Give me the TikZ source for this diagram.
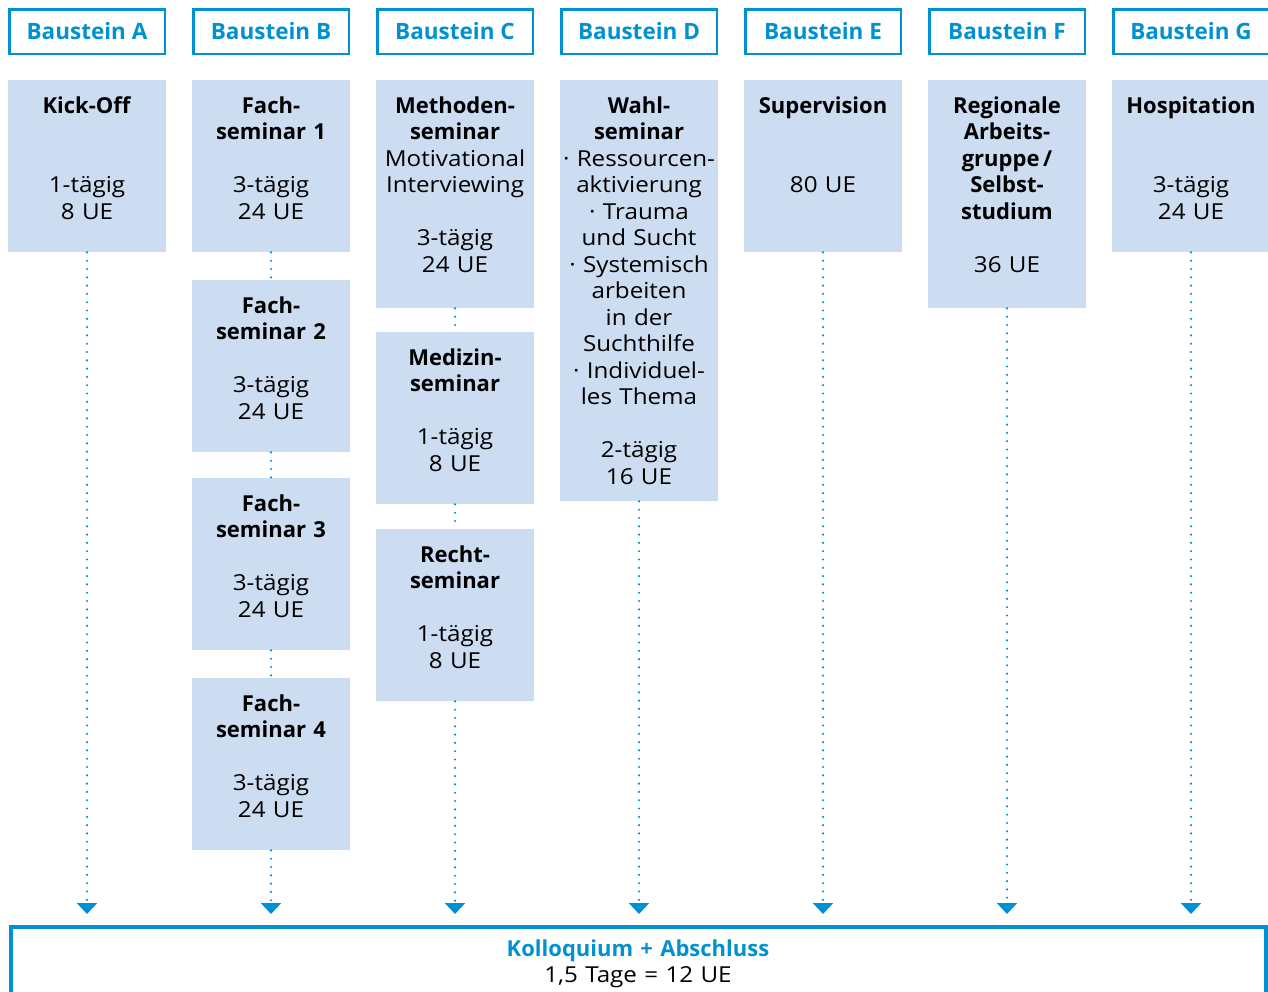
\documentclass[tikz,border=0pt]{standalone}
\usepackage{fontspec}
\setmainfont{Open Sans}[UprightFeatures={FakeStretch=1.1}]
\usetikzlibrary{arrows.meta}
\definecolor{bsblue}{RGB}{0,145,210}
\definecolor{bsfill}{RGB}{204,220,241}

\begin{document}
\begin{tikzpicture}[x=1pt,y=-1pt,
    every node/.style={font=\fontsize{22}{26.5}\selectfont},
    header/.style={draw=bsblue,line width=2.5pt,minimum width=155.5pt,minimum height=44.5pt,
      inner sep=0pt,text=bsblue,font=\fontsize{22.5}{26.5}\selectfont\bfseries},
    seminar/.style={fill=bsfill,anchor=north,inner sep=0pt,text width=158pt,align=center,
      text height=33pt,text depth=#1},
    seminar/.default=139pt,
    dots/.style={draw=bsblue,line width=2.4pt,line cap=round,dash pattern=on 0pt off 8.3pt},
    toend/.style={dots,-{Triangle[width=20pt,length=11pt]},shorten >=11pt}]
  \useasboundingbox (0,0) rectangle (1268,991);
  % headers
  \node (hA) at (87,31.5) [header] {Baustein A};
  \node (hB) at (271,31.5) [header] {Baustein B};
  \node (hC) at (455,31.5) [header] {Baustein C};
  \node (hD) at (639,31.5) [header] {Baustein D};
  \node (hE) at (823,31.5) [header] {Baustein E};
  \node (hF) at (1007,31.5) [header] {Baustein F};
  \node (hG) at (1191,31.5) [header] {Baustein G};
  % seminars
  \node (A) at (87,80) [seminar] {\textbf{Kick-Off}\\[53pt]1-tägig\\8 UE};
  \node (B1) at (271,80) [seminar] {\textbf{Fach-}\\\textbf{seminar 1}\\[26.5pt]3-tägig\\24 UE};
  \node (B2) at (271,280) [seminar] {\textbf{Fach-}\\\textbf{seminar 2}\\[26.5pt]3-tägig\\24 UE};
  \node (B3) at (271,478) [seminar] {\textbf{Fach-}\\\textbf{seminar 3}\\[26.5pt]3-tägig\\24 UE};
  \node (B4) at (271,678) [seminar] {\textbf{Fach-}\\\textbf{seminar 4}\\[26.5pt]3-tägig\\24 UE};
  \node (C1) at (455,80) [seminar=195pt] {\textbf{Methoden-}\\\textbf{seminar}\\Motivational\\Interviewing\\[26.5pt]3-tägig\\24 UE};
  \node (C2) at (455,332) [seminar] {\textbf{Medizin-}\\\textbf{seminar}\\[26.5pt]1-tägig\\8 UE};
  \node (C3) at (455,529) [seminar] {\textbf{Recht-}\\\textbf{seminar}\\[26.5pt]1-tägig\\8 UE};
  \node (D) at (639,80) [seminar=388pt] {\textbf{Wahl-}\\\textbf{seminar}\\· Ressourcen-\\aktivierung\\· Trauma\\und Sucht\\· Systemisch\\arbeiten\\in der\\Suchthilfe\\· Individuel-\\les Thema\\[26.5pt]2-tägig\\16 UE};
  \node (E) at (823,80) [seminar] {\textbf{Supervision}\\[53pt]80 UE};
  \node (F) at (1007,80) [seminar=195pt] {\textbf{Regionale}\\\textbf{Arbeits-}\\\textbf{gruppe\,/}\\\textbf{Selbst-}\\\textbf{studium}\\[26.5pt]36 UE};
  \node (G) at (1191,80) [seminar] {\textbf{Hospitation}\\[53pt]3-tägig\\24 UE};
  % final
  \node (K) at (638,925) [draw=bsblue,line width=4pt,anchor=north,minimum width=1255pt,
    inner sep=0pt,text width=1255pt,align=center,text height=29pt,text depth=120pt]
    {\textcolor{bsblue}{\textbf{Kolloquium + Abschluss}}\\1,5 Tage = 12 UE};
  % links
  \draw[dots] (B1) -- (B2);
  \draw[dots] (B2) -- (B3);
  \draw[dots] (B3) -- (B4);
  \draw[dots] (C1) -- (C2);
  \draw[dots] (C2) -- (C3);
  \draw[toend] (A) -- (A |- K.north);
  \draw[toend] (B4) -- (B4 |- K.north);
  \draw[toend] (C3) -- (C3 |- K.north);
  \draw[toend] (D) -- (D |- K.north);
  \draw[toend] (E) -- (E |- K.north);
  \draw[toend] (F) -- (F |- K.north);
  \draw[toend] (G) -- (G |- K.north);
\end{tikzpicture}
\end{document}
